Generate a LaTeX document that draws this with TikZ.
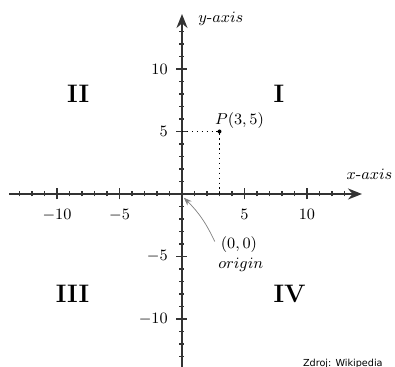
\documentclass[tikz,border=0pt]{standalone}
\usepackage{fontspec}
\newfontfamily\srcfont{DejaVu Sans}
\usepackage{tikz}
\usetikzlibrary{arrows.meta,positioning}
\tikzset{
  axs/.style={-{Stealth[length=2.8mm,width=2.2mm]},line width=1pt,black!80},
  mnr/.style={line width=0.6pt,black!80},
  mjr/.style={line width=1pt,black!80},
  tlbl/.style={font=\small},
  quad/.style={font=\Large\bfseries,inner sep=0pt},
  note/.style={gray,thin,-{Stealth[length=1.6mm,width=1.2mm]}},
}

\begin{document}
\begin{tikzpicture}[x=0.25cm,y=0.25cm]
\useasboundingbox (-14.56,-13.84) rectangle (17.04,15.52);
% unit ticks on both axes
\foreach \k in {-13,...,13}{
  \draw[mnr] (\k,-0.2) -- (\k,0.2);
  \draw[mnr] (-0.2,\k) -- (0.2,\k);}
% every fifth tick, with its number
\foreach \k in {-10,-5,5,10}{
  \draw[mjr] (\k,-0.44) -- (\k,0.44);
  \draw[mjr] (-0.44,\k) -- (0.44,\k);
  \node[tlbl,below] (xt\k) at (\k,-0.75) {$\k$};
  \node[tlbl,left] (yt\k) at (-0.65,\k) {$\k$};}
\draw[axs] (-13.8,0) -- (14.4,0);
\draw[axs] (0,-14) -- (0,14.4);
\node[tlbl] (xlab) at (15.0,1.6) {$x$-$axis$};
\node[tlbl] (ylab) at (3.1,14.0) {$y$-$axis$};
% the point P
\coordinate (pt) at (3,5);
\draw[dotted,line width=0.8pt] (0,5) -- (pt) -- (3,0);
\fill (pt) circle (0.16);
\node[tlbl] (plab) at (4.6,5.9) {$P(3,5)$};
% origin note
\node[tlbl] (orig) at (4.56,-4.08) {$(0,0)$};
\node[tlbl] (orgtxt) at (4.7,-5.7) {$origin$};
\draw[note] ([yshift=2pt]orig.west) to[bend right=10] (0.15,-0.3);
% quadrants
\node[quad,anchor=west] (q1) at (7.3,8) {I};
\node[quad,anchor=east] (q2) at (-7.4,8) {II};
\node[quad,anchor=east] (q3) at (-7.4,-8) {III};
\node[quad,anchor=west] (q4) at (7.3,-8) {IV};
\node[font=\srcfont\fontsize{5.5}{6}\selectfont,anchor=base east,inner sep=0pt] (src) at (16.08,-13.84) {Zdroj: Wikipedia};
\end{tikzpicture}
\end{document}
